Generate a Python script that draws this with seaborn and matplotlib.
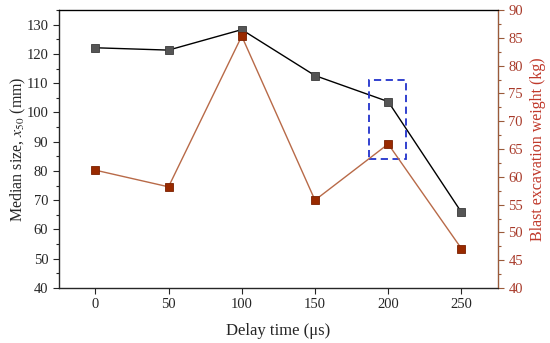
import matplotlib
matplotlib.use("Agg")
import matplotlib.pyplot as plt
from matplotlib.patches import Rectangle
from matplotlib.ticker import MultipleLocator
import seaborn as sns

sns.set_style("ticks")
plt.rcParams["font.family"] = ["Liberation Serif", "DejaVu Serif"]
plt.rcParams["mathtext.fontset"] = "stix"

delay = [0, 50, 100, 150, 200, 250]
median_size = [122.1, 121.3, 128.3, 112.6, 103.7, 65.9]
excavation = [61.2, 58.2, 85.3, 55.8, 65.9, 47.1]

red_line = "#b86a48"
red_mark = "#992a00"
axis_brown = "#9a5a3a"
label_red = "#c0392b"

fig = plt.figure(figsize=(5.5, 3.43), dpi=100)
ax = fig.add_axes([0.1067, 0.1603, 0.7988, 0.8105])
ax2 = ax.twinx()

sns.lineplot(x=delay, y=median_size, ax=ax, color="black", linewidth=1.0,
             marker="s", markersize=6, markerfacecolor="#555555",
             markeredgecolor="#3a3a3a", markeredgewidth=0.6)
sns.lineplot(x=delay, y=excavation, ax=ax2, color=red_line, linewidth=1.0,
             marker="s", markersize=6, markerfacecolor=red_mark,
             markeredgecolor="#7a2000", markeredgewidth=0.6)

# dashed box around the 200 us point
ax.add_patch(Rectangle((187, 84), 25, 27, fill=False, edgecolor="#2233cc",
                       linestyle=(0, (4, 2.5)), linewidth=1.3, zorder=5))

ax.set_xlim(-25, 275)
ax.set_ylim(40, 135)
ax2.set_ylim(40, 90)
ax.set_xticks(delay)
ax.yaxis.set_major_locator(MultipleLocator(10))
ax.yaxis.set_minor_locator(MultipleLocator(5))
ax2.yaxis.set_major_locator(MultipleLocator(5))
ax2.yaxis.set_minor_locator(MultipleLocator(2.5))

ax.set_xlabel("Delay time (\u03bcs)", fontsize=12, labelpad=8)
ax.set_ylabel("Median size, $x_{50}$ (mm)", fontsize=11.5)
ax.yaxis.set_label_coords(-0.07, 0.5)
ax2.set_ylabel("Blast excavation weight (kg)", fontsize=11.5, color=label_red, labelpad=5)

ax.tick_params(axis="both", which="major", labelsize=10.5, direction="out", length=4, width=0.8)
ax.tick_params(axis="y", which="minor", direction="out", length=2, width=0.8)
ax2.tick_params(axis="y", which="major", labelsize=10.5, direction="out", length=4,
                width=0.8, colors=axis_brown, labelcolor="#a83a2a")
ax2.tick_params(axis="y", which="minor", direction="out", length=2, width=0.8, colors=axis_brown)

for s in ["left", "bottom", "top"]:
    ax.spines[s].set_color("black")
    ax.spines[s].set_linewidth(0.9)
ax2.spines["right"].set_color(axis_brown)
ax2.spines["right"].set_linewidth(0.9)
ax2.spines["top"].set_visible(True)
ax2.spines["top"].set_color("black")

fig.savefig("out.png", dpi=100)
